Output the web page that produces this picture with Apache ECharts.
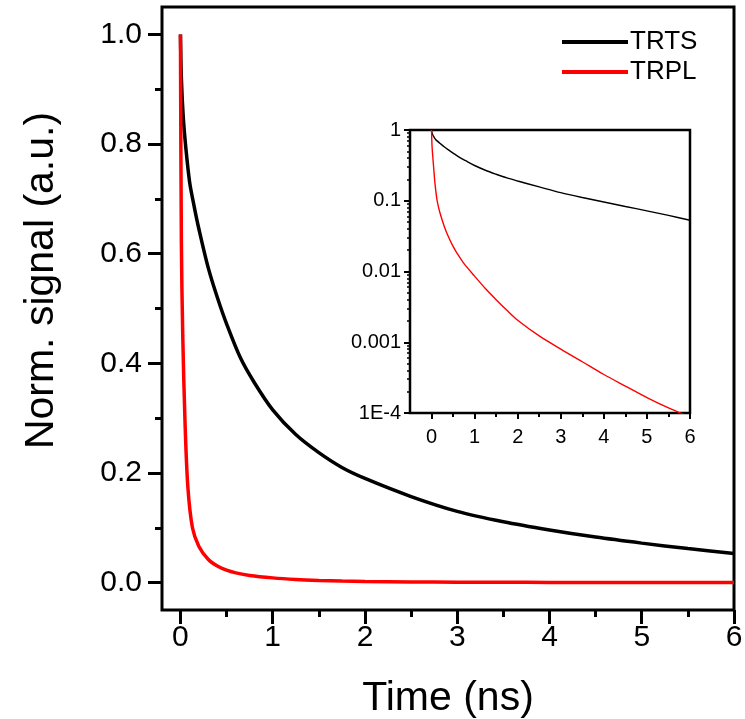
<!DOCTYPE html>
<html>
<head>
<meta charset="utf-8">
<script src="https://cdn.jsdelivr.net/npm/echarts@6/dist/echarts.min.js"></script>
<style>html,body{margin:0;padding:0;background:#fff}#c{width:745px;height:719px}</style>
</head>
<body>
<div id="c"></div>
<script>
var trtsTime = [0, 0.01, 0.03, 0.06, 0.1, 0.15, 0.2, 0.3, 0.4, 0.5, 0.65, 0.8, 1.0, 1.25, 1.5, 1.75, 2.0, 2.5, 3.0, 3.5, 4.0, 4.5, 5.0, 5.5, 6.0];
var trtsVal  = [1.0, 0.92, 0.85, 0.79, 0.73, 0.685, 0.645, 0.575, 0.52, 0.472, 0.41, 0.365, 0.315, 0.27, 0.237, 0.21, 0.19, 0.157, 0.13, 0.111, 0.096, 0.083, 0.072, 0.062, 0.053];
var trplTime = [0, 0.01, 0.025, 0.05, 0.08, 0.13, 0.2, 0.3, 0.4, 0.5, 0.6, 0.75, 1.0, 1.25, 1.5, 1.75, 2.0, 2.5, 3.0, 3.5, 4.0, 4.5, 5.0, 5.5, 6.0];
var trplVal  = [1.0, 0.62, 0.45, 0.29, 0.175, 0.10, 0.066, 0.0427, 0.0302, 0.0226, 0.0178, 0.0130, 0.0086, 0.00575, 0.0040, 0.00283, 0.00205, 0.00123, 0.00080, 0.00053, 0.00035, 0.00024, 0.000165, 0.000118, 0.000088];
var mainXTicks = [0, 1, 2, 3, 4, 5, 6];
var mainXMinor = [0.5, 1.5, 2.5, 3.5, 4.5, 5.5];
var mainYTicks = [0, 0.2, 0.4, 0.6, 0.8, 1.0];
var mainYMinor = [0.1, 0.3, 0.5, 0.7, 0.9];
var insetYTicks = [0.0001, 0.001, 0.01, 0.1, 1];
var insetYLabels = {'0.0001': '1E-4', '0.001': '0.001', '0.01': '0.01', '0.1': '0.1', '1': '1'};

function pairs(t, v) { return t.map(function (x, i) { return [x, v[i]]; }); }
var insetYMinor = [];
[0.0001, 0.001, 0.01, 0.1].forEach(function (d) { for (var k = 2; k <= 9; k++) insetYMinor.push(+(d * k).toPrecision(3)); });

var FONT = 'Liberation Sans, Arial, sans-serif';
var chart = echarts.init(document.getElementById('c'), null, {renderer: 'canvas'});

function xAxisDef(grid, min, max, ticks, len, showLabel, fs, margin, extra) {
  var a = {
    type: 'value', gridIndex: grid, min: min, max: max, position: 'bottom',
    axisLine: {show: false, onZero: false},
    splitLine: {show: false},
    axisTick: {show: true, inside: false, length: len, customValues: ticks, lineStyle: {color: '#000', width: grid === 0 ? 3 : 2}},
    axisLabel: {show: showLabel, customValues: ticks, fontSize: fs, fontFamily: FONT, color: '#000', margin: margin}
  };
  return Object.assign(a, extra || {});
}

var option = {
  animation: false,
  backgroundColor: '#fff',
  legend: {
    data: ['TRTS', 'TRPL'], orient: 'vertical', left: 557, top: 24, itemGap: 4,
    itemWidth: 66, itemHeight: 4, icon: 'rect',
    textStyle: {fontSize: 26, fontFamily: FONT, color: '#000', padding: [0, 0, 0, -3]}
  },
  grid: [
    {left: 162, top: 7, width: 572, height: 603, show: true, borderColor: '#000', borderWidth: 3, backgroundColor: 'transparent', outerBoundsMode: 'none', containLabel: false},
    {left: 410, top: 130, width: 280, height: 283, show: true, borderColor: '#000', borderWidth: 2.5, backgroundColor: '#fff', z: 5, outerBoundsMode: 'none', containLabel: false}
  ],
  xAxis: [
    xAxisDef(0, -0.2, 6, mainXTicks, 14, true, 30, 13, {name: 'Time (ns)', nameLocation: 'middle', nameGap: 68, nameTextStyle: {fontSize: 41, fontFamily: FONT, color: '#000'}}),
    xAxisDef(0, -0.2, 6, mainXMinor, 7, false, 30, 13),
    xAxisDef(1, -0.5, 6, mainXTicks, 6, true, 20, 14, {z: 6}),
    xAxisDef(1, -0.5, 6, mainXMinor, 4, false, 20, 14, {z: 6})
  ],
  yAxis: [
    {type: 'value', gridIndex: 0, min: -0.05, max: 1.05, position: 'left',
     name: 'Norm. signal (a.u.)', nameLocation: 'middle', nameGap: 100,
     nameTextStyle: {fontSize: 41, fontFamily: FONT, color: '#000', padding: [0, 0, 0, 56]},
     axisLine: {show: false, onZero: false}, splitLine: {show: false},
     axisTick: {show: true, length: 14, customValues: mainYTicks, lineStyle: {color: '#000', width: 3}},
     axisLabel: {customValues: mainYTicks, fontSize: 30, fontFamily: FONT, color: '#000', margin: 20,
       formatter: function (v) { return v.toFixed(1); }}},
    {type: 'value', gridIndex: 0, min: -0.05, max: 1.05, position: 'left',
     axisLine: {show: false, onZero: false}, splitLine: {show: false},
     axisTick: {show: true, length: 7, customValues: mainYMinor, lineStyle: {color: '#000', width: 3}},
     axisLabel: {show: false, customValues: mainYMinor}},
    {type: 'log', logBase: 10, gridIndex: 1, min: 0.0001, max: 1, z: 6, position: 'left',
     axisLine: {show: false, onZero: false}, splitLine: {show: false},
     axisTick: {show: true, length: 6, customValues: insetYTicks, lineStyle: {color: '#000', width: 2}},
     axisLabel: {customValues: insetYTicks, fontSize: 20, fontFamily: FONT, color: '#000', margin: 9,
       formatter: function (v) { var key = String(+v.toPrecision(3)); return insetYLabels[key] !== undefined ? insetYLabels[key] : ''; }}},
    {type: 'log', logBase: 10, gridIndex: 1, min: 0.0001, max: 1, z: 6, position: 'left',
     axisLine: {show: false, onZero: false}, splitLine: {show: false},
     axisTick: {show: true, length: 3, customValues: insetYMinor, lineStyle: {color: '#000', width: 1.5}},
     axisLabel: {show: false, customValues: insetYMinor}}
  ],
  series: [
    {name: 'TRTS', type: 'line', xAxisIndex: 0, yAxisIndex: 0, data: pairs(trtsTime, trtsVal), smooth: 0.3,
     showSymbol: false, symbol: 'none', lineStyle: {color: '#000', width: 3.5}, itemStyle: {color: '#000'}, z: 2},
    {name: 'TRPL', type: 'line', xAxisIndex: 0, yAxisIndex: 0, data: pairs(trplTime, trplVal), smooth: 0.3,
     showSymbol: false, symbol: 'none', lineStyle: {color: '#ff0000', width: 3.5}, itemStyle: {color: '#ff0000'}, z: 3},
    {name: 'TRTS', type: 'line', xAxisIndex: 2, yAxisIndex: 2, data: pairs(trtsTime, trtsVal), smooth: 0.3, clip: true,
     showSymbol: false, symbol: 'none', lineStyle: {color: '#000', width: 1.4}, itemStyle: {color: '#000'}, z: 7},
    {name: 'TRPL', type: 'line', xAxisIndex: 2, yAxisIndex: 2, data: pairs(trplTime, trplVal), smooth: 0.3, clip: true,
     showSymbol: false, symbol: 'none', lineStyle: {color: '#ff0000', width: 1.4}, itemStyle: {color: '#ff0000'}, z: 7}
  ]
};
chart.setOption(option);
</script>
</body>
</html>
